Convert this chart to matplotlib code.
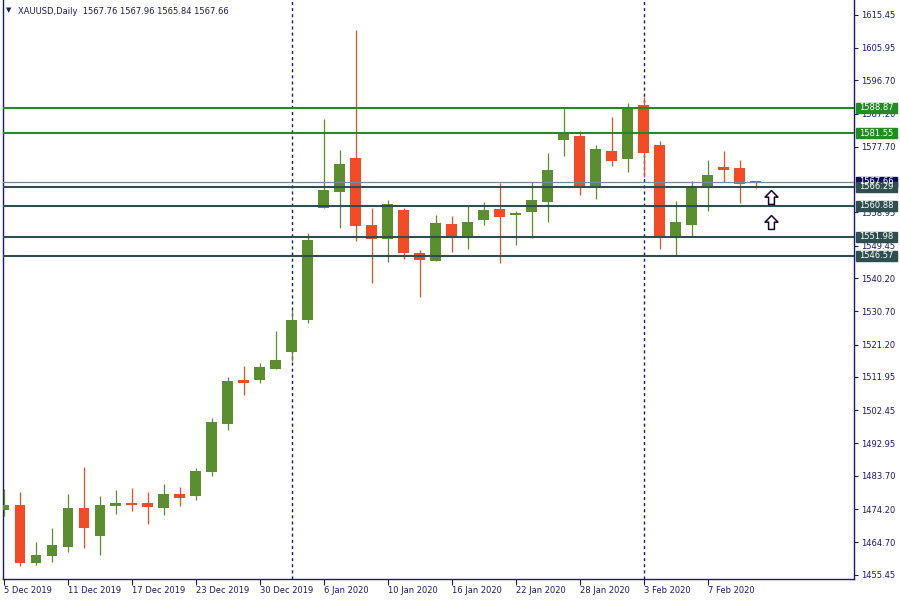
import matplotlib
matplotlib.use('Agg')
import matplotlib.pyplot as plt
import matplotlib.transforms as mtransforms
from matplotlib.patches import Rectangle
from matplotlib.path import Path
import numpy as np

# Daily XAUUSD bars, 5 Dec 2019 - 12 Feb 2020
opens = [1473.93, 1475.35, 1458.87, 1460.87, 1463.44, 1474.50, 1466.58, 1475.15, 1475.70, 1475.93,
         1474.58, 1478.50, 1478.01, 1484.87, 1498.58, 1511.07, 1511.15, 1514.30, 1519.15, 1528.30,
         1560.30, 1564.87, 1574.50, 1555.35, 1551.44, 1559.64, 1547.35, 1545.15, 1555.64, 1551.73,
         1556.87, 1559.93, 1558.30, 1559.15, 1562.01, 1579.73, 1580.78, 1566.01, 1576.50, 1574.30,
         1589.64, 1578.21, 1552.30, 1555.44, 1566.01, 1571.93, 1571.64, 1567.76]
highs = [1479.93, 1479.07, 1464.70, 1468.78, 1478.50, 1486.21, 1477.93, 1479.64, 1480.21, 1479.07,
         1481.35, 1480.50, 1485.93, 1500.21, 1511.93, 1515.07, 1515.93, 1525.07, 1531.07, 1553.07,
         1585.64, 1576.78, 1611.07, 1560.21, 1562.50, 1560.21, 1548.21, 1558.21, 1557.93, 1560.78,
         1561.93, 1567.44, 1559.35, 1567.55, 1575.93, 1588.87, 1582.21, 1578.21, 1586.30, 1590.21,
         1592.01, 1579.35, 1562.21, 1568.01, 1573.93, 1576.50, 1573.93, 1567.96]
lows = [1472.30, 1458.01, 1458.30, 1459.15, 1461.93, 1463.15, 1461.15, 1472.87, 1473.73, 1470.01,
        1472.58, 1475.15, 1476.87, 1483.73, 1496.87, 1506.87, 1510.30, 1514.30, 1516.50, 1527.44,
        1560.10, 1554.58, 1550.87, 1538.87, 1544.87, 1545.73, 1534.87, 1545.00, 1547.73, 1548.58,
        1555.44, 1544.58, 1549.73, 1551.73, 1556.30, 1575.15, 1564.01, 1562.87, 1572.30, 1570.58,
        1569.15, 1548.58, 1546.87, 1552.01, 1559.44, 1567.55, 1561.73, 1565.84]
closes = [1475.35, 1458.87, 1461.07, 1463.93, 1474.50, 1468.87, 1475.35, 1475.93, 1475.50, 1474.87,
          1478.50, 1477.44, 1485.07, 1499.07, 1510.78, 1510.30, 1514.78, 1516.78, 1528.21, 1551.07,
          1565.35, 1572.78, 1555.15, 1551.44, 1561.35, 1547.44, 1545.44, 1555.93, 1551.73, 1556.21,
          1559.64, 1557.73, 1558.78, 1562.50, 1571.07, 1581.35, 1566.58, 1577.07, 1573.73, 1588.58,
          1576.01, 1552.30, 1556.21, 1566.21, 1569.64, 1571.15, 1567.15, 1567.66]

tick_bars = [0, 4, 8, 12, 16, 20, 24, 28, 32, 36, 40, 44]
tick_labels = ['5 Dec 2019', '11 Dec 2019', '17 Dec 2019', '23 Dec 2019', '30 Dec 2019',
               '6 Jan 2020', '10 Jan 2020', '16 Jan 2020', '22 Jan 2020', '28 Jan 2020',
               '3 Feb 2020', '7 Feb 2020']
separator_bars = [18, 40]

price_ticks = [1615.45, 1605.95, 1596.70, 1587.20, 1577.70, 1558.95, 1549.45, 1540.20,
               1530.70, 1521.20, 1511.95, 1502.45, 1492.95, 1483.70, 1474.20, 1464.70, 1455.45]

resistance_levels = [1588.87, 1581.55]
support_levels = [1566.29, 1560.88, 1551.98, 1546.57]
current_price = 1567.66

arrow_bar = 48
arrow_prices = [1563.35, 1556.11]

title = 'XAUUSD,Daily  1567.76 1567.96 1565.84 1567.66'

# colours
BULL = '#5b8e2f'
BEAR = '#f24c27'
NAVY = '#191970'
GREEN_LVL = '#228b22'
SLATE_LVL = '#2f4f4f'

fig = plt.figure(figsize=(9, 6), dpi=100)
ax = fig.add_axes([2.5 / 900, 21 / 600, 851.5 / 900, 579 / 600])

x = np.arange(len(opens))
o = np.array(opens)
c = np.array(closes)
cols = [BULL if cc >= oo else BEAR for oo, cc in zip(o, c)]

# wicks and bodies
ax.vlines(x, lows, highs, colors=cols, lw=0.9, zorder=3)
h = np.maximum(np.abs(c - o), 0.55)
mid = (o + c) / 2
ax.bar(x, h, bottom=mid - h / 2, width=0.68, color=cols, linewidth=0, zorder=4)

# period separators
for b in separator_bars:
    ax.axvline(b, color=NAVY, lw=1, ls=(0, (2.2, 2.2)), zorder=2)

# horizontal levels
ax.axhline(current_price, color='#778899', lw=0.9, zorder=5)
for lv in resistance_levels:
    ax.axhline(lv, color=GREEN_LVL, lw=1.5, zorder=5)
for lv in support_levels:
    ax.axhline(lv, color=SLATE_LVL, lw=1.5, zorder=5)

# price labels on the right axis
trans = mtransforms.blended_transform_factory(ax.transAxes, ax.transData)
box_h = 2.86
labels = [(current_price, '#0a0a5a')] + [(lv, GREEN_LVL) for lv in resistance_levels] + \
         [(lv, SLATE_LVL) for lv in support_levels]
for lv, col in labels:
    ax.add_patch(Rectangle((1.0024, lv - box_h / 2), 0.048, box_h, transform=trans,
                           color=col, clip_on=False, zorder=6))
    ax.text(1.006, lv, '%.2f' % lv, transform=trans, color='white', fontsize=6,
            va='center', ha='left', clip_on=False, zorder=7)

# up arrows
arrow = Path([(0, 1), (0.93, 0.05), (0.42, 0.05), (0.42, -1), (-0.42, -1),
              (-0.42, 0.05), (-0.93, 0.05), (0, 1)], closed=True)
ax.plot([arrow_bar] * len(arrow_prices), arrow_prices, ls='none', marker=arrow,
        markersize=10, markerfacecolor='white', markeredgecolor='#1a0030',
        markeredgewidth=1.1, zorder=8)

ax.set_xlim(-0.094, 53.16)
ax.set_ylim(1454.21, 1619.64)

ax.yaxis.tick_right()
ax.set_yticks(price_ticks)
ax.set_yticklabels(['%.2f' % t for t in price_ticks])
ax.set_xticks(tick_bars)
ax.set_xticklabels(tick_labels)
for lab in ax.get_xticklabels():
    lab.set_ha('left')
ax.tick_params(axis='y', direction='out', length=3, width=0.8, colors=NAVY,
               labelsize=6, pad=2)
ax.tick_params(axis='x', direction='out', length=4, width=0.8, colors=NAVY,
               labelsize=6, pad=1)

for side in ['left', 'right', 'bottom']:
    ax.spines[side].set_color(NAVY)
    ax.spines[side].set_linewidth(1)
ax.spines['top'].set_visible(False)

fig.text(6 / 900, 1 - 10 / 600, '\u25bc', fontsize=5, color=NAVY, va='center')
fig.text(18 / 900, 1 - 11 / 600, title, fontsize=6, color='#1a1a5e', va='center')

fig.savefig('out.png', dpi=100)
